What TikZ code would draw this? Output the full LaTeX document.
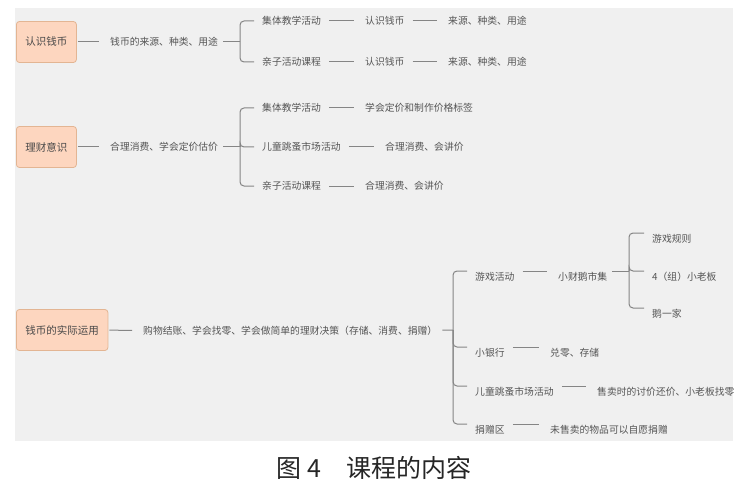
\documentclass[tikz,border=0pt]{standalone}
\usepackage{fontspec}
\usepackage{xcolor}
\usepackage{tikz}
\newfontfamily\cjk{Noto Sans CJK SC}
\definecolor{bggray}{HTML}{F0F0F0}
\definecolor{linegray}{HTML}{858585}
\definecolor{txtgray}{HTML}{555555}
\definecolor{topicfill}{HTML}{FDD6BF}
\definecolor{topicline}{HTML}{E3B593}
\tikzset{
    topic/.style={draw=topicline, fill=topicfill, rounded corners=3pt, line width=0.8pt, minimum height=41pt, inner xsep=9pt, anchor=west, text=txtgray!85!black, font=\cjk\fontsize{10.5}{12}\selectfont},
    leaf/.style={anchor=west, inner sep=0pt, text=txtgray, font=\cjk\fontsize{9.8}{12}\selectfont},
    lift/.style={leaf, text height=18pt, text depth=0pt},
    link/.style={draw=linegray, line width=1pt, shorten <=8pt, shorten >=11pt},
    branch/.style={draw=linegray, line width=1pt, rounded corners=4pt, shorten >=8pt}
}

\begin{document}
\begin{tikzpicture}[x=1pt, y=-1pt]
    \useasboundingbox (0,0) rectangle (751,481);
    \fill[bggray] (15,8) rectangle (733,441);

    \node[topic] (r1) at (16,42) {认识钱币};
    \node[leaf] (a1) at (110,42) {钱币的来源、种类、用途};
    \coordinate (s1) at (240,42);
    \node[leaf] (b11) at (262,21) {集体教学活动};
    \node[leaf] (b12) at (262,62) {亲子活动课程};
    \node[leaf] (c11) at (365,21) {认识钱币};
    \node[leaf] (c12) at (365,62) {认识钱币};
    \node[leaf] (d11) at (448,21) {来源、种类、用途};
    \node[leaf] (d12) at (448,62) {来源、种类、用途};

    \node[topic] (r2) at (16,147) {理财意识};
    \node[leaf] (a2) at (110,147) {合理消费、学会定价估价};
    \coordinate (s2) at (240,147);
    \node[leaf] (b21) at (262,108) {集体教学活动};
    \node[leaf] (b22) at (262,147) {儿童跳蚤市场活动};
    \node[leaf] (b23) at (262,186) {亲子活动课程};
    \node[leaf] (c21) at (365,108) {学会定价和制作价格标签};
    \node[leaf] (c22) at (385,147) {合理消费、会讲价};
    \node[leaf] (c23) at (365,186) {合理消费、会讲价};

    \node[topic] (r3) at (16,330) {钱币的实际运用};
    \node[leaf] (a3) at (143,331) {购物结账、学会找零、学会做简单的理财决策（存储、消费、捐赠）};
    \coordinate (s3) at (453,330);
    \node[lift] (b31) at (475,271) {游戏活动};
    \node[lift] (b32) at (475,347) {小银行};
    \node[lift] (b33) at (475,386) {儿童跳蚤市场活动};
    \node[lift] (b34) at (475,424) {捐赠区};
    \node[lift] (c31) at (558,271) {小财鹅市集};
    \coordinate (s4) at (629,271);
    \node[lift] (d31) at (652,233) {游戏规则};
    \node[lift] (d32) at (652,271) {4（组）小老板};
    \node[lift] (d33) at (652,308) {鹅一家};
    \node[lift] (c32) at (550,347) {兑零、存储};
    \node[lift] (c33) at (597,386) {售卖时的讨价还价、小老板找零};
    \node[lift] (c34) at (550,424) {未售卖的物品可以自愿捐赠};

    \foreach \a/\b in {r1/a1, r2/a2, r3/a3}
        \draw[link, shorten <=1pt] (\a) -- (\b);
    \foreach \a/\b in {a1/s1, a2/s2, a3/s3, c31/s4}
        \draw[link, shorten <=5pt, shorten >=0pt] (\a) -- (\b);
    \foreach \s/\b in {s1/b11, s1/b12, s2/b21, s2/b22, s2/b23, s3/b31, s3/b32, s3/b33, s3/b34, s4/d31, s4/d32, s4/d33}
        \draw[branch] (\s) |- (\b.west);
    \foreach \a/\b in {b11/c11, b12/c12, c11/d11, c12/d12, b21/c21, b22/c22, b23/c23, b31/c31, b32/c32, b33/c33, b34/c34}
        \draw[link] (\a) -- (\b);

    \node[font=\cjk\fontsize{25}{28}\selectfont, text=black!85] (cap) at (374,468) {图 4\quad 课程的内容};
\end{tikzpicture}
\end{document}
